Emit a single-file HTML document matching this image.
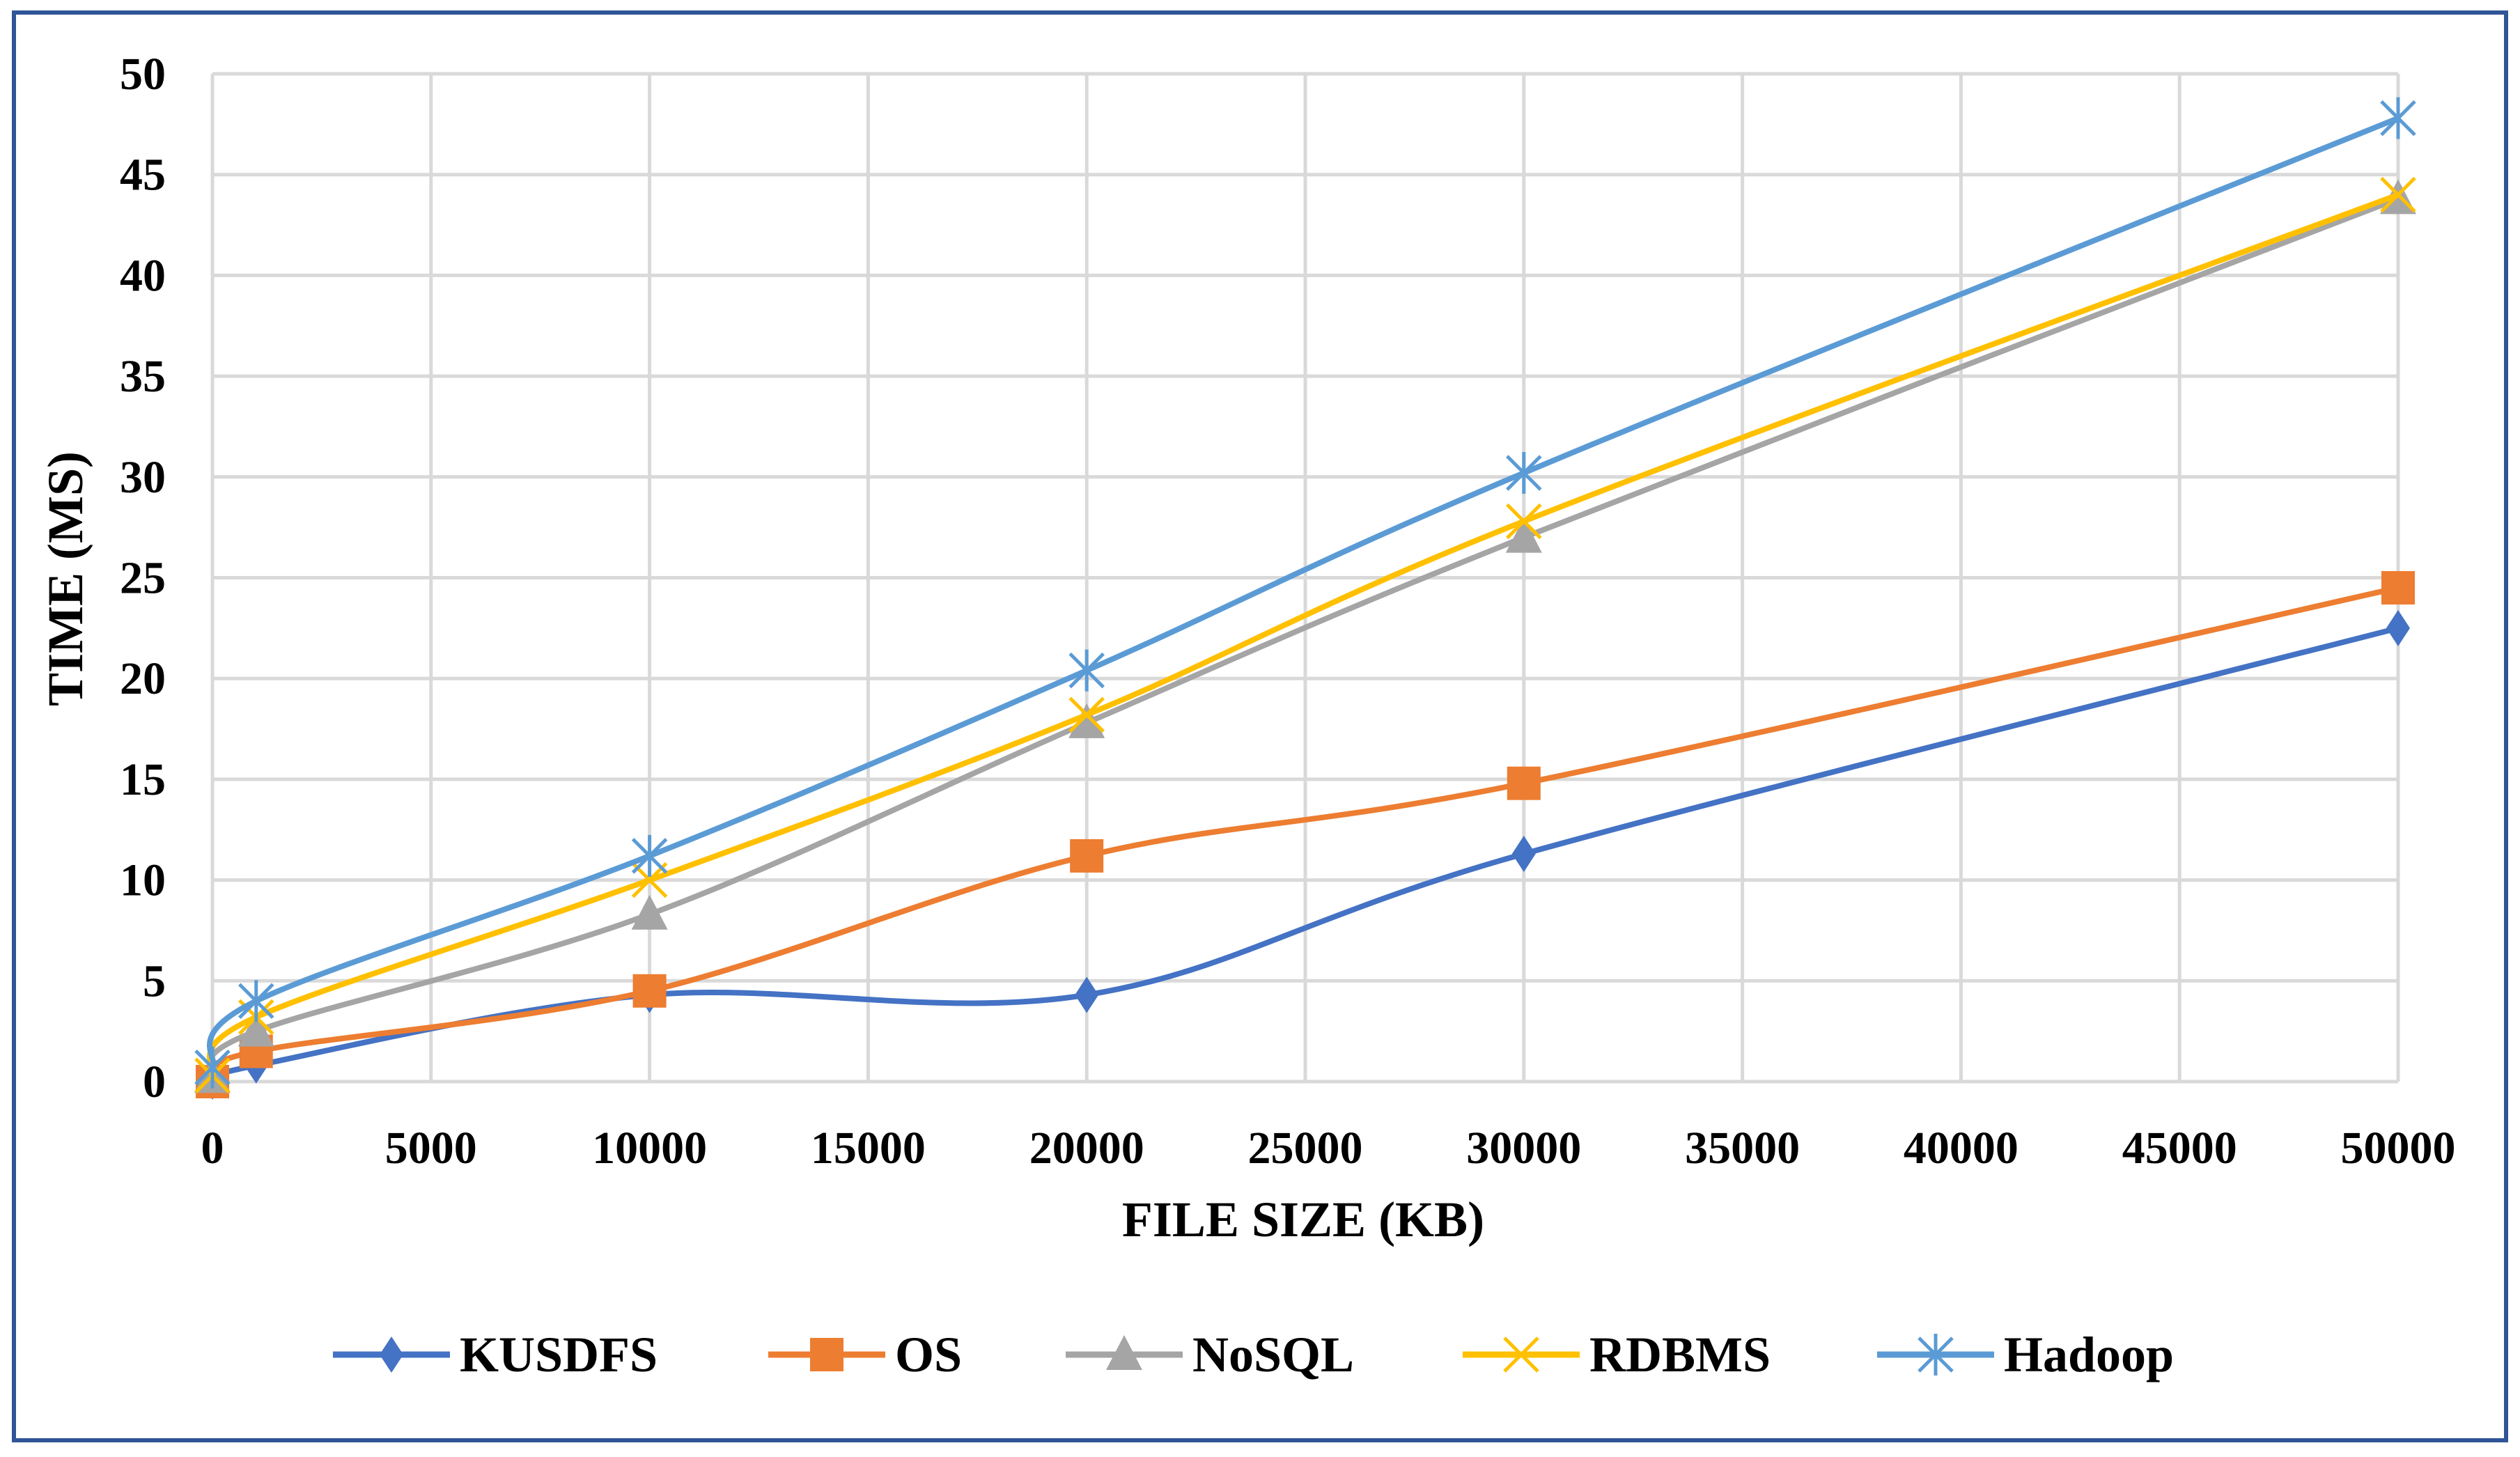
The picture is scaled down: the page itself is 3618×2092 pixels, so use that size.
<!DOCTYPE html>
<html><head><meta charset="utf-8">
<style>
html,body{margin:0;padding:0;background:#fff;}
svg{display:block;}
text{font-family:"Liberation Serif",serif;font-weight:bold;fill:#000;}
</style></head>
<body>
<svg id="s" width="3618" height="2092" xmlns="http://www.w3.org/2000/svg">
<rect x="0" y="0" width="3618" height="2092" fill="#fff"/>
<rect x="20" y="18" width="3578" height="2050" fill="none" stroke="#2F5597" stroke-width="6"/>
<g id="grid" stroke="#d9d9d9" stroke-width="5"></g>
<g id="ylab" font-size="66" text-anchor="end"></g>
<g id="xlab" font-size="66" text-anchor="middle"></g>
<text x="1871" y="1775" font-size="72" text-anchor="middle">FILE SIZE (KB)</text>
<text transform="translate(118,831) rotate(-90)" font-size="72" text-anchor="middle">TIME (MS)</text>
<g id="series"></g>
<g id="legend" font-size="72"></g>
</svg>
<script>
var NS="http://www.w3.org/2000/svg";
function el(t,a,p){var e=document.createElementNS(NS,t);for(var k in a)e.setAttribute(k,a[k]);p.appendChild(e);return e;}
var X0=305,X1=3443,Y0=1553,Y1=106;
function sx(v){return X0+(X1-X0)*v/50000;}
function sy(v){return Y0-(Y0-Y1)*v/50;}
var g=document.getElementById('grid');
for(var i=0;i<=10;i++){var y=sy(i*5);el('line',{x1:X0,x2:X1,y1:y,y2:y},g);
 var t=el('text',{x:238,y:y+22},document.getElementById('ylab'));t.textContent=i*5;}
for(var i=0;i<=10;i++){var x=sx(i*5000);el('line',{x1:x,x2:x,y1:Y1,y2:Y0},g);
 var t=el('text',{x:x,y:1670},document.getElementById('xlab'));t.textContent=i*5000;}
var xs=[0,1000,10000,20000,30000,50000];
var S=[
 {n:'KUSDFS',c:'#4472C4',m:'d',v:[0,0.8,4.3,4.3,11.3,22.5]},
 {n:'OS',c:'#ED7D31',m:'s',v:[0,1.5,4.5,11.2,14.8,24.5]},
 {n:'NoSQL',c:'#A5A5A5',m:'t',v:[0.2,2.5,8.3,17.8,27.0,43.8]},
 {n:'RDBMS',c:'#FFC000',m:'x',v:[0.3,3.2,10.0,18.2,27.8,44.0]},
 {n:'Hadoop',c:'#5B9BD5',m:'a',v:[0.7,4.0,11.2,20.4,30.2,47.8]}
];
function smooth(P){var d='M'+P[0][0]+','+P[0][1];
 for(var i=0;i<P.length-1;i++){var p0=P[i-1]||P[i],p1=P[i],p2=P[i+1],p3=P[i+2]||p2,k=1/6;
  d+=' C'+(p1[0]+(p2[0]-p0[0])*k)+','+(p1[1]+(p2[1]-p0[1])*k)+' '+(p2[0]-(p3[0]-p1[0])*k)+','+(p2[1]-(p3[1]-p1[1])*k)+' '+p2[0]+','+p2[1];}
 return d;}
function marker(m,x,y,c,p){
 if(m=='d')el('polygon',{points:(x)+','+(y-26)+' '+(x+17)+','+y+' '+x+','+(y+26)+' '+(x-17)+','+y,fill:c},p);
 else if(m=='s')el('rect',{x:x-24,y:y-24,width:48,height:48,fill:c},p);
 else if(m=='t')el('polygon',{points:x+','+(y-28)+' '+(x+26)+','+(y+22)+' '+(x-26)+','+(y+22),fill:c},p);
 else{var r=24;el('path',{d:'M'+(x-r)+','+(y-r)+'L'+(x+r)+','+(y+r)+'M'+(x-r)+','+(y+r)+'L'+(x+r)+','+(y-r)+(m=='a'?'M'+x+','+(y-30)+'L'+x+','+(y+30):''),stroke:c,'stroke-width':5,fill:'none'},p);}
}
var sg=document.getElementById('series');
S.forEach(function(s){var P=xs.map(function(x,i){return [sx(x),sy(s.v[i])];});
 el('path',{d:smooth(P),stroke:s.c,'stroke-width':8,fill:'none'},sg);
 P.forEach(function(p){marker(s.m,p[0],p[1],s.c,sg);});});
var lg=document.getElementById('legend');
var LX=[[478,658],[1103,1283],[1530,1710],[2100,2280],[2695,2875]];
S.forEach(function(s,i){var y=1945;el('line',{x1:LX[i][0],x2:LX[i][0]+168,y1:y,y2:y,stroke:s.c,'stroke-width':9},lg);
 marker(s.m,LX[i][0]+84,y,s.c,lg);var t=el('text',{x:LX[i][1]+2,y:y+24},lg);t.textContent=s.n;});
</script>
</body></html>
